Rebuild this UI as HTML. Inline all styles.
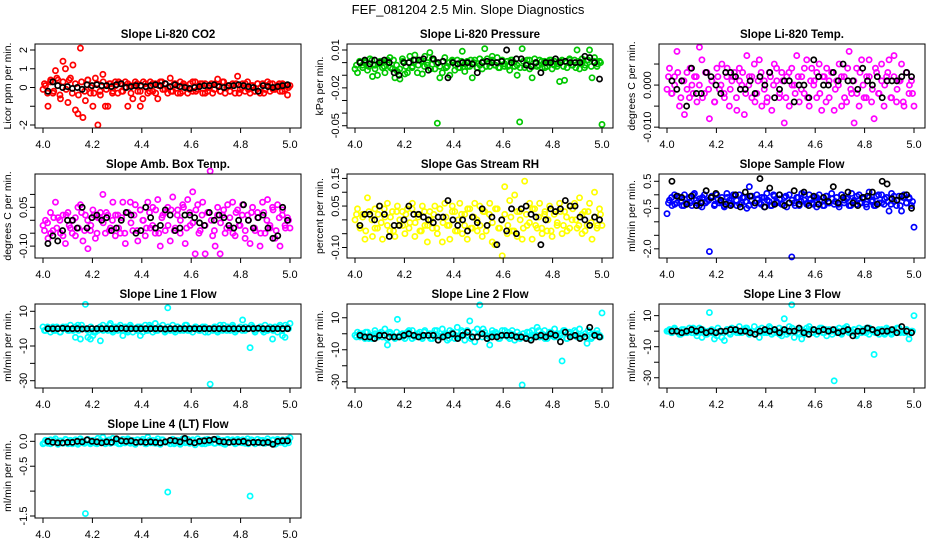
<!DOCTYPE html>
<html><head><meta charset="utf-8"><style>
html,body{margin:0;padding:0;background:#fff}
svg{display:block;font-family:"Liberation Sans",sans-serif}
</style></head><body>
<svg id="chart" width="936" height="540" viewBox="0 0 936 540">
<rect width="936" height="540" fill="#fff"/>
<text x="468" y="14" text-anchor="middle" font-size="13">FEF_081204  2.5 Min. Slope Diagnostics</text>
</svg>
<script>
const xTicks=[4.0,4.2,4.4,4.6,4.8,5.0];
const xTickLabels=["4.0","4.2","4.4","4.6","4.8","5.0"];
const co2Color=[-0.1,0.1,-1.0,0.3,-0.3,0.9,0.4,-0.6,1.4,1.0,-0.8,0.5,1.2,-1.2,-1.4,2.1,-1.6,-0.7,0.4,-0.3,-1.0,0.5,-2.0,-0.4,0.7,-1.0,-1.0,0.2,-0.2,0.3,-0.3,0.2,-0.2,0.3,-1.0,0.1,-0.6,0.3,-0.2,-1.0,-0.6,0.2,-0.3,0.3,-0.2,0.2,-0.6,0.3,-0.1,0.2,-0.3,0.5,-0.2,0.2,-0.3,0.3,-0.2,0.1,-0.3,0.2,-0.2,0.3,-0.1,0.2,-0.3,0.2,-0.2,0.1,-0.3,0.2,0.45,-0.2,0.3,-0.3,0.1,-0.2,0.2,-0.3,0.6,-0.1,0.2,-0.2,0.3,-0.3,0.1,-0.2,0.2,-0.3,0.2,-0.1,0.3,-0.2,0.2,-0.1,0.1,-0.2,0.2,-0.1,-0.4,0.1];
const co2Band=[0.2,-0.3,0.4,-0.2,0.5,-0.4,0.3,-0.1,0.4,-0.3,0.2,-0.4,0.3,-0.2,0.4,0.0,-0.3,0.2,-0.2,0.3,-0.1,0.2,-0.3,0.1,0.3,-0.2,0.0,0.2,-0.3,0.1,0.2,-0.2,0.3,0.0,-0.2,0.2,-0.3,0.1,0.3,-0.1,0.0,-0.2,0.2,0.1,-0.3,0.2,0.0,-0.1,0.3,-0.2,0.1,0.2,-0.3,0.0,0.2,-0.1,0.1,-0.2,0.3,0.0,-0.2,0.1,0.2,-0.3,0.0,0.2,-0.1,0.1,-0.2,0.2,0.0,-0.3,0.1,0.2,-0.1,0.0,0.2,-0.2,0.1,0.0];
const co2Black=[-0.2,0.3,0.1,0.0,0.05,-0.05,0.0,-0.1,0.15,0.1,0.15,0.1,0.1,0.05,0.15,0.2,0.0,0.05,0.1,0.1,0.05,0.1,0.15,0.1,0.2,0.05,0.15,0.05,0.0,-0.05,0.0,0.05,0.1,0.1,0.15,0.05,0.0,0.1,0.1,0.15,0.1,0.05,0.0,-0.2,0.1,0.05,0.0,0.05,0.1,0.15];
const presColor=[-0.005,-0.008,0.0,-0.002,0.001,-0.006,0.003,-0.011,-0.002,-0.010,0.001,-0.004,-0.008,0.002,0.004,-0.005,-0.012,-0.007,-0.013,0.003,-0.009,-0.008,0.005,-0.003,0.006,-0.008,0.002,-0.009,0.005,-0.002,0.008,0.003,-0.005,-0.048,-0.012,-0.008,0.004,-0.003,-0.010,0.001,-0.006,0.002,-0.004,0.009,-0.007,0.001,-0.003,-0.012,0.002,-0.004,0.003,-0.005,0.011,0.003,-0.003,0.005,-0.002,0.004,-0.004,0.002,-0.003,0.001,-0.006,0.002,-0.003,-0.010,-0.047,0.011,-0.004,0.002,-0.005,-0.012,0.003,-0.003,0.002,-0.004,0.001,-0.003,0.002,-0.005,0.001,-0.003,-0.015,0.002,-0.014,-0.004,0.003,-0.002,0.002,0.010,-0.005,0.003,-0.004,0.002,0.010,-0.012,0.004,-0.003,0.001,-0.049];
const presBand=[-0.002,0.001,-0.004,0.0,-0.003,0.002,-0.005,-0.001,0.001,-0.003,0.0,-0.004,0.002,-0.002,-0.005,0.001,-0.003,0.0,-0.004,0.002,-0.002,0.001,-0.003,0.0,-0.005,0.002,-0.001,-0.003,0.001,-0.004,0.0,0.002,-0.002,-0.004,0.001,-0.001,-0.003,0.002,0.0,-0.004,-0.002,0.001,-0.003,0.0,0.002,-0.002,-0.004,0.001,-0.001,-0.003,0.002,0.0,-0.002,-0.004,0.001,-0.001,0.002,-0.003,0.0,-0.002,0.001,-0.004,0.0,0.002,-0.002,-0.001,0.001,-0.003,0.0,0.002,-0.002,-0.004,0.001,0.0,-0.002,0.002,-0.003,0.001,-0.001,0.0];
const presBlack=[0.0,0.002,-0.001,0.002,0.0,0.002,0.0,-0.008,-0.01,0.0,0.0,0.002,0.002,0.003,-0.006,0.003,0.0,0.001,-0.012,0.0,-0.001,0.0,0.0,-0.001,-0.008,0.0,0.001,0.0,0.0,0.001,0.010,0.0,0.003,0.003,-0.002,-0.003,0.0,-0.008,0.0,0.0,0.003,0.0,0.001,0.0,0.0,0.0,0.005,0.004,0.0,-0.013];
const tempColor=[-0.001,0.004,-0.002,0.002,0.008,-0.005,0.001,-0.007,0.003,-0.003,0.0,0.002,-0.004,0.009,0.006,-0.002,0.003,-0.008,0.001,-0.004,0.004,-0.001,0.005,-0.003,0.002,-0.005,0.001,0.003,-0.006,0.004,0.0,-0.007,0.007,0.002,-0.003,0.005,-0.002,0.006,-0.005,0.001,-0.004,0.003,-0.006,0.005,0.001,-0.003,0.003,-0.009,0.002,-0.005,0.004,0.0,0.007,-0.004,0.002,-0.002,0.006,-0.005,0.004,0.001,-0.003,0.005,-0.006,0.002,0.004,-0.003,0.003,-0.006,0.001,0.005,-0.005,0.002,-0.004,0.008,-0.002,-0.009,0.004,-0.005,0.006,-0.003,0.002,0.006,-0.004,-0.008,0.003,-0.002,0.005,-0.005,0.002,0.006,-0.003,0.007,-0.004,0.001,0.005,-0.005,0.003,-0.002,0.001,-0.005];
const tempBand=[0.002,-0.002,0.0,0.003,-0.003,0.001,-0.001,0.004,-0.002,0.002,0.0,-0.003,0.003,-0.001,0.001,-0.004,0.002,0.0,-0.002,0.004,-0.001,0.002,-0.003,0.001,0.003,-0.002,0.0,0.002,-0.004,0.001,0.003,-0.001,-0.003,0.002,0.0,0.004,-0.002,0.001,-0.003,0.003,0.0,-0.002,0.002,-0.001,0.004,-0.003,0.001,0.0,0.003,-0.002,0.002,-0.004,0.001,0.003,-0.001,0.0,0.002,-0.003,0.004,-0.001,0.001,-0.002,0.003,0.0,-0.003,0.002,-0.001,0.004,-0.002,0.001,0.0,0.003,-0.003,0.002,-0.001,0.001,-0.004,0.003,0.0,-0.002];
const tempBlack=[0.001,-0.001,0.001,-0.005,0.004,-0.002,-0.002,0.003,0.002,0.0,-0.002,0.003,0.003,0.002,-0.001,-0.001,0.001,-0.002,0.002,0.0,0.003,-0.003,-0.001,0.001,0.001,-0.004,0.0,0.0,-0.003,0.006,0.002,0.0,0.0,0.003,0.001,0.005,0.001,0.001,-0.001,0.004,0.001,0.0,0.002,-0.003,0.001,0.001,0.001,0.002,0.003,0.002];
const ambColor=[-0.02,0.0,-0.07,0.03,-0.04,0.07,0.01,-0.05,0.02,-0.09,0.03,-0.03,0.0,-0.06,0.05,0.06,-0.08,0.02,-0.11,-0.04,0.04,-0.07,0.01,0.03,0.10,-0.05,0.02,-0.03,0.07,-0.06,0.02,-0.05,0.07,-0.09,0.03,0.07,-0.04,0.06,-0.08,0.04,0.0,-0.06,0.07,-0.03,0.05,-0.05,0.08,-0.10,0.02,-0.04,0.05,-0.08,0.09,-0.03,0.04,-0.05,0.06,-0.09,0.08,-0.02,0.11,-0.13,0.06,-0.04,0.07,-0.13,0.03,0.19,-0.06,-0.10,0.05,-0.13,0.02,-0.05,0.06,-0.03,0.07,-0.06,0.04,-0.02,0.06,-0.07,0.02,-0.09,0.05,-0.04,0.03,-0.10,0.07,-0.05,0.08,-0.03,0.05,-0.07,0.06,-0.10,0.04,-0.02,0.01,-0.03];
const ambBand=[-0.04,-0.01,-0.05,0.01,-0.03,0.0,-0.06,0.02,-0.02,-0.05,0.01,-0.03,0.03,-0.04,0.0,-0.02,0.02,-0.05,0.01,-0.01,0.03,-0.04,0.0,0.02,-0.03,0.01,-0.05,0.03,-0.01,0.02,-0.04,0.04,0.0,-0.03,0.03,-0.02,0.04,-0.05,0.01,0.03,-0.02,0.04,-0.04,0.02,0.0,0.05,-0.03,0.03,-0.01,0.04,-0.05,0.02,-0.02,0.03,0.0,-0.04,0.02,-0.01,0.04,-0.03,0.01,-0.05,0.03,-0.02,0.02,-0.04,0.0,0.03,-0.03,0.01,-0.05,0.03,0.0,-0.02,0.04,-0.04,0.01,0.02,-0.03,0.0];
const ambBlack=[-0.09,-0.06,-0.08,-0.04,0.0,0.0,-0.03,0.05,-0.03,0.01,0.02,0.0,0.01,-0.04,-0.03,0.0,0.03,0.02,-0.05,-0.04,0.05,0.01,-0.03,-0.02,0.04,0.02,-0.04,-0.03,0.02,0.02,0.01,-0.01,-0.02,0.03,0.0,0.02,0.01,-0.02,-0.03,0.0,0.06,0.0,-0.03,0.01,0.02,-0.03,-0.07,-0.06,0.05,0.0];
const rhColor=[0.0,0.04,-0.03,0.02,-0.07,0.08,0.02,-0.06,0.04,-0.03,0.05,-0.07,0.01,0.06,-0.04,0.03,-0.06,0.05,-0.02,0.03,-0.05,0.04,-0.01,0.06,-0.06,0.02,-0.04,0.05,-0.02,-0.08,0.03,-0.03,0.05,-0.05,0.04,-0.08,0.06,-0.02,-0.07,0.05,0.03,-0.04,0.06,-0.05,0.02,-0.07,0.04,-0.03,0.06,-0.04,0.05,-0.06,0.03,-0.02,0.06,-0.08,-0.09,0.04,-0.03,-0.13,0.12,-0.05,0.07,-0.04,0.09,-0.06,0.03,-0.07,0.14,-0.02,0.06,-0.07,0.04,-0.03,0.06,-0.05,0.02,-0.04,0.05,-0.06,0.03,-0.02,0.06,-0.05,0.03,-0.04,0.05,0.0,0.06,-0.03,0.08,-0.05,0.03,-0.02,0.06,-0.07,0.1,-0.03,0.04,-0.02];
const rhBand=[0.02,-0.02,0.01,-0.04,0.03,0.0,-0.03,0.02,-0.01,0.04,-0.02,0.01,-0.04,0.03,0.0,-0.02,0.02,-0.03,0.04,-0.01,0.01,-0.04,0.03,-0.02,0.0,0.02,-0.03,0.04,-0.01,0.01,-0.02,0.03,-0.04,0.0,0.02,-0.02,0.04,-0.03,0.01,0.0,-0.02,0.03,-0.04,0.02,-0.01,0.04,-0.03,0.0,0.02,-0.02,0.01,-0.04,0.03,0.0,-0.03,0.02,-0.01,0.04,-0.02,0.01,-0.03,0.03,0.0,-0.04,0.02,-0.01,0.03,-0.02,0.01,-0.03,0.04,0.0,-0.02,0.02,-0.04,0.03,-0.01,0.01,-0.02,0.02];
const rhBlack=[-0.02,0.02,0.02,0.0,0.05,0.02,-0.06,-0.02,-0.02,0.0,0.05,0.02,0.02,0.01,0.0,-0.01,0.01,0.01,0.07,0.0,-0.02,0.0,-0.04,0.01,-0.01,0.04,-0.02,0.01,-0.09,0.0,-0.04,0.04,-0.05,0.04,0.05,0.02,0.01,-0.09,0.0,0.04,0.03,0.04,0.07,0.05,0.05,0.01,0.0,-0.02,0.01,0.0];
const flowColor=[-0.7,-0.2,-0.4,0.0,-0.3,-0.1,-0.4,0.0,-0.3,-0.1,-0.4,0.05,-0.3,-0.15,-0.45,0.0,-0.25,-2.1,-0.1,-0.4,0.0,-0.3,-0.1,-0.45,0.05,-0.2,-0.35,-0.05,-0.4,0.0,-0.3,-0.1,-0.5,0.3,-0.2,-0.4,0.0,-0.3,-0.1,-0.45,0.05,-0.25,-0.4,-0.05,-0.3,0.0,-0.35,-0.1,-0.45,0.0,-2.3,-0.3,-0.1,-0.4,0.05,-0.2,-0.35,0.0,-0.3,-0.1,-0.45,0.0,-0.25,-0.4,-0.05,-0.3,0.05,-0.35,-0.1,-0.45,0.0,-0.3,-0.15,-0.4,0.05,-0.2,-0.35,0.0,-0.3,-0.1,-0.45,0.1,-0.25,-0.4,-0.05,-0.3,0.0,-0.35,-0.1,-0.6,0.05,-0.25,-0.4,-0.05,-0.6,0.0,-0.3,-0.1,-0.4,-1.2];
const flowBand=[-0.3,-0.1,-0.35,-0.05,-0.25,-0.4,-0.15,-0.3,0.0,-0.2,-0.4,-0.1,-0.3,-0.2,-0.05,-0.35,-0.15,-0.25,-0.4,-0.1,-0.3,0.0,-0.2,-0.35,-0.1,-0.25,-0.4,-0.05,-0.3,-0.15,-0.35,-0.1,-0.2,-0.4,0.0,-0.25,-0.15,-0.35,-0.05,-0.3,-0.2,-0.4,-0.1,-0.25,0.0,-0.3,-0.15,-0.35,-0.1,-0.2,-0.4,-0.05,-0.3,-0.15,-0.25,-0.35,0.0,-0.2,-0.1,-0.4,-0.25,-0.05,-0.3,-0.15,-0.35,-0.1,-0.2,-0.4,0.0,-0.3,-0.15,-0.25,-0.35,-0.05,-0.2,-0.4,-0.1,-0.3,-0.15,-0.25];
const flowBlack=[0.5,-0.05,-0.1,-0.35,-0.05,-0.4,-0.3,0.15,-0.1,0.05,-0.2,-0.35,-0.4,0.0,-0.45,0.1,-0.05,-0.3,0.6,-0.45,0.25,-0.35,0.0,-0.4,-0.3,0.15,-0.35,0.1,-0.4,-0.05,-0.35,-0.1,-0.25,0.3,-0.3,-0.1,0.1,-0.3,-0.4,-0.1,-0.05,0.1,-0.35,0.5,0.4,-0.15,-0.2,-0.05,0.0,-0.5];
const line1Color=[1,-1,0,-2,1,-1,0,-2,1,0,-1,2,-1,-5,2,-6,0,14,-5,-6,-4,-2,-1,-7,2,0,-1,3,-2,1,-1,2,-4,1,-1,2,-2,0,1,-4,-2,2,-1,1,-2,3,-1,0,2,-1,12,-1,2,-2,1,-1,0,2,-1,0,-2,1,0,-1,1,-2,0,-32,-1,1,-2,2,-1,0,1,-1,2,-2,0,1,5,-1,0,-11,1,-2,0,1,-1,2,-1,0,-6,1,-2,2,-4,-5,1,3];
const line1Band=[-1,1,0,-1,1,-2,0,1,-1,0,1,-1,2,0,-1,1,-2,0,1,-1,0,2,-1,0,1,-1,0,-2,1,0,-1,1,0,-1,2,0,-1,1,0,-2,1,0,-1,1,0,-1,2,-1,0,1,-1,0,1,-2,0,1,-1,0,2,-1,0,1,-1,0,-1,1,0,2,-1,0,1,-2,0,1,-1,0,1,-1,2,0];
const line1Black=[0,0,0,0.2,0,0,0,-0.2,0,0,0,0,0,0,0,0.2,0,0,0,0,0,0,0,0,-0.2,0,0,0,0,0,0,0,0,0,0,0,0,0,0,0,0,0,0,0.2,0,0,0,0,0,0];
const line2Color=[-1,1,-2,0,-3,1,-1,-3,2,-1,0,-2,3,-7,1,-1,-3,9,-2,0,-3,1,-1,2,-2,0,1,-3,2,-1,0,-3,2,-1,-2,3,-1,-4,2,0,-3,4,-1,1,-4,2,8,-2,-5,3,18,-2,1,-3,-7,2,-1,0,-3,2,-1,1,-3,2,-4,1,-1,-32,-2,1,-3,2,-1,4,-2,0,2,-3,1,-1,3,-2,0,-17,2,-3,1,-1,2,-2,3,-1,-2,-6,1,-2,0,2,-1,13];
const line2Band=[-2,0,-1,1,-3,-1,0,-2,1,-1,-3,0,-2,1,-1,-2,0,2,-3,-1,0,-2,1,-1,-3,0,2,-2,-1,0,-3,1,-1,-2,2,0,-1,-3,1,-2,0,3,-1,-2,0,1,-3,-1,2,-2,0,-1,1,-3,0,-2,1,-1,-2,2,0,-3,-1,1,-2,0,-1,2,-3,0,-1,1,-2,-1,0,2,-3,-1,0,-2];
const line2Black=[-1,-2,-2,-3,-1,-1,-2,-2,-2,-1,0,-1,-2,-1,-1,-1,-4,-2,-1,0,-3,-1,1,-2,-2,0,-3,-2,-2,-1,-1,-1,-2,-2,-3,-4,-2,-1,-2,0,-1,-5,1,-2,-1,-3,-2,4,-1,-2];
const line3Color=[0,1,-1,2,0,-2,1,-1,0,2,-1,1,-3,2,-4,0,-2,12,-1,-5,-3,0,-4,-6,1,-1,2,0,-1,3,-1,1,2,-2,0,3,-1,-4,2,0,-1,3,-2,1,-1,2,-3,8,-2,3,17,-4,1,-2,-5,0,2,3,-1,1,-2,0,2,-1,-3,1,0,-32,-1,2,-2,1,3,-1,0,1,-3,2,-1,0,2,-2,1,-15,0,-2,1,-1,2,0,-2,1,-1,2,0,-1,1,-5,0,10];
const line3Band=[0,-1,1,0,-2,1,-1,0,2,-1,0,1,-2,0,1,-1,2,0,-1,1,-2,0,1,-1,0,2,-1,0,-2,1,0,-1,1,2,-1,0,-2,1,0,-1,2,0,-1,1,-2,0,1,-1,0,2,-1,1,0,-2,1,0,-1,2,0,-1,1,-2,0,1,-1,2,0,-1,1,0,-2,1,-1,0,2,-1,0,1,-2,0];
const line3Black=[0,0,-1,0,1,0,1,-1,0,-1,0,0,1,1,0,0,-1,-2,0,1,0,1,-1,1,0,0,2,-1,-2,1,0,1,0,1,-1,0,1,-3,0,0,2,1,-1,0,0,1,-1,3,0,-1];
const line4Color=[-0.05,0.02,-0.04,0.03,-0.02,0.05,-0.06,0.01,-0.03,0.04,-0.05,0.02,-0.04,0.03,-0.06,0.05,-0.03,-1.45,0.04,-0.05,0.02,-0.04,0.06,-0.03,0.08,-0.05,0.02,-0.04,0.06,-0.02,0.03,-0.05,0.04,-0.03,0.05,-0.04,0.02,-0.06,0.03,-0.02,0.04,-0.05,0.08,-0.03,0.02,-0.04,0.05,-0.06,0.03,-0.02,-1.02,-0.05,0.04,-0.03,0.02,-0.06,0.05,-0.03,0.04,-0.02,0.03,-0.07,0.05,-0.03,0.02,-0.05,0.04,-0.02,0.03,-0.04,0.05,-0.03,0.02,-0.06,0.04,-0.02,0.03,-0.05,0.04,-0.02,0.03,-0.04,0.05,-1.1,0.02,-0.05,0.04,-0.03,0.02,-0.04,0.05,-0.03,0.02,-0.06,0.04,-0.02,0.03,-0.05,0.04,0.07];
const line4Band=[-0.03,0.01,-0.05,0.02,-0.02,0.0,-0.04,0.03,-0.01,-0.05,0.02,-0.03,0.01,-0.04,0.03,-0.02,0.0,-0.05,0.02,-0.01,-0.04,0.03,-0.02,0.01,-0.05,0.0,-0.03,0.02,-0.01,-0.04,0.03,-0.02,0.0,-0.05,0.02,-0.03,0.01,-0.04,0.03,-0.01,-0.02,0.02,-0.05,0.0,-0.03,0.03,-0.01,-0.04,0.02,-0.02,0.0,-0.05,0.03,-0.03,0.01,-0.04,0.02,-0.01,-0.05,0.03,-0.02,0.0,-0.04,0.02,-0.03,0.01,-0.05,0.03,-0.01,-0.02,0.02,-0.04,0.0,-0.03,0.03,-0.05,0.01,-0.02,0.02,-0.03];
const line4Black=[0.0,-0.02,-0.03,-0.03,-0.02,-0.02,0.0,-0.01,0.03,0.0,-0.01,-0.03,-0.01,-0.02,0.05,0.01,0.0,0.01,-0.02,-0.01,-0.02,-0.01,-0.02,-0.03,-0.01,0.02,0.01,-0.01,0.06,-0.01,-0.03,0.0,0.01,0.02,0.04,0.0,-0.01,-0.02,-0.01,-0.01,0.0,-0.03,-0.02,-0.02,-0.03,-0.02,-0.06,0.0,0.01,0.01];

const panels=[
 {name:"co2",title:"Slope Li-820 CO2",ylab:"Licor ppm per min.",c:0,r:0,y0:-2.16,y1:2.32,ticks:[2,1,0,-1,-2],labels:{"2":"2","1":"1","0":"0","-2":"-2"},color:"#ff0000",col:co2Color,band:co2Band,blk:co2Black},
 {name:"pressure",title:"Slope Li-820 Pressure",ylab:"kPa per min.",c:1,r:0,y0:-0.0518,y1:0.01475,ticks:[0.01,0,-0.01,-0.02,-0.03,-0.04,-0.05],labels:{"0.01":"0.01","-0.02":"-0.02","-0.05":"-0.05"},color:"#00c800",col:presColor,band:presBand,blk:presBlack},
 {name:"temp",title:"Slope Li-820 Temp.",ylab:"degrees C per min.",c:2,r:0,y0:-0.0102,y1:0.00976,ticks:[0.005,0,-0.005,-0.01],labels:{"0":"0.000","-0.01":"-0.010"},color:"#ff00ff",col:tempColor,band:tempBand,blk:tempBlack},
 {name:"amb-box-temp",title:"Slope Amb. Box Temp.",ylab:"degrees C per min.",c:0,r:1,y0:-0.146,y1:0.179,ticks:[0.1,0.05,0,-0.05,-0.1],labels:{"0.05":"0.05","-0.1":"-0.10"},color:"#ff00ff",col:ambColor,band:ambBand,blk:ambBlack},
 {name:"gas-stream-rh",title:"Slope Gas Stream RH",ylab:"percent per min.",c:1,r:1,y0:-0.138,y1:0.166,ticks:[0.15,0.1,0.05,0,-0.05,-0.1],labels:{"0.15":"0.15","0.05":"0.05","-0.1":"-0.10"},color:"#ffff00",col:rhColor,band:rhBand,blk:rhBlack},
 {name:"sample-flow",title:"Slope Sample Flow",ylab:"ml/min per min.",c:2,r:1,y0:-2.34,y1:0.77,ticks:[0.5,0,-0.5,-1,-1.5,-2],labels:{"0.5":"0.5","-0.5":"-0.5","-2":"-2.0"},color:"#0000ff",col:flowColor,band:flowBand,blk:flowBlack},
 {name:"line1-flow",title:"Slope Line 1 Flow",ylab:"ml/min per min.",c:0,r:2,y0:-34.2,y1:14.2,ticks:[10,0,-10,-20,-30],labels:{"10":"10","-10":"-10","-30":"-30"},color:"#00ffff",col:line1Color,band:line1Band,blk:line1Black},
 {name:"line2-flow",title:"Slope Line 2 Flow",ylab:"ml/min per min.",c:1,r:2,y0:-33.9,y1:18.6,ticks:[10,0,-10,-20,-30],labels:{"10":"10","-10":"-10","-30":"-30"},color:"#00ffff",col:line2Color,band:line2Band,blk:line2Black},
 {name:"line3-flow",title:"Slope Line 3 Flow",ylab:"ml/min per min.",c:2,r:2,y0:-36.6,y1:17.5,ticks:[10,0,-10,-20,-30],labels:{"10":"10","-10":"-10","-30":"-30"},color:"#00ffff",col:line3Color,band:line3Band,blk:line3Black},
 {name:"line4-flow",title:"Slope Line 4 (LT) Flow",ylab:"ml/min per min.",c:0,r:3,y0:-1.54,y1:0.147,ticks:[0,-0.5,-1,-1.5],labels:{"0":"0.0","-0.5":"-0.5","-1.5":"-1.5"},color:"#00ffff",col:line4Color,band:line4Band,blk:line4Black}
];
const NS="http://www.w3.org/2000/svg";
const svg=document.getElementById('chart');
function mk(tag,attrs,parent){const e=document.createElementNS(NS,tag);for(const k in attrs)e.setAttribute(k,attrs[k]);parent.appendChild(e);return e;}
panels.forEach(p=>{
 const L=35+312*p.c, T=44+130*p.r, W=266, H=84;
 const g=mk('g',{},svg);
 
 
 const xs=v=>L+8+(v-4)*247;
 const ys=v=>T+(p.y1-v)/(p.y1-p.y0)*H;
 const t=mk('text',{x:L+W/2,y:T-6,'text-anchor':'middle','font-size':11.5,'font-weight':'bold'},g);
 t.textContent=p.title;
 
 
 const yl=mk('text',{x:0,y:0,transform:`translate(${L-24},${T+H/2}) rotate(-90)`,'text-anchor':'middle','font-size':10.5},g);
 yl.textContent=p.ylab;
 
 
 const pts=mk('g',{fill:'none','stroke-width':1.7},g);
 
 
 const n=p.col.length;
 p.col.forEach((v,i)=>{
  const c=mk('circle',{cx:xs(4+i/(n-1)),cy:ys(v),r:2.6,stroke:p.color},pts);
  
  
 });
 const nb=p.band.length;
 p.band.forEach((v,i)=>{
  const c=mk('circle',{cx:xs(4.006+0.988*i/(nb-1)),cy:ys(v),r:2.6,stroke:p.color},pts);
  
  
 });
 const m=p.blk.length;
 p.blk.forEach((v,i)=>{
  const c=mk('circle',{cx:xs(4.02+0.97*i/(m-1)),cy:ys(v),r:2.6,stroke:'#000'},pts);
  
  
 });
 const box=mk('rect',{x:L,y:T,width:W,height:H,fill:'none',stroke:'#000','stroke-width':1},g);
 
 
 const xa=mk('g',{},g);
 
 
 mk('line',{x1:xs(xTicks[0]),x2:xs(xTicks[xTicks.length-1]),y1:T+H,y2:T+H,stroke:'#000'},xa);
 xTicks.forEach((v,i)=>{
  mk('line',{x1:xs(v),x2:xs(v),y1:T+H,y2:T+H+5,stroke:'#000'},xa);
  const tl=mk('text',{x:xs(v),y:T+H+20,'text-anchor':'middle','font-size':11},xa);
  tl.textContent=xTickLabels[i];
  
  
 });
 const ya=mk('g',{},g);
 
 
 p.ticks.forEach(v=>{
  mk('line',{x1:L-5,x2:L,y1:ys(v),y2:ys(v),stroke:'#000'},ya);
  const key=String(v);
  if(p.labels[key]!==undefined){
   const tl=mk('text',{x:0,y:0,transform:`translate(${L-8},${ys(v)}) rotate(-90)`,'text-anchor':'middle','font-size':11},ya);
   tl.textContent=p.labels[key];
   
   
  }
 });
});
</script>
</body></html>
